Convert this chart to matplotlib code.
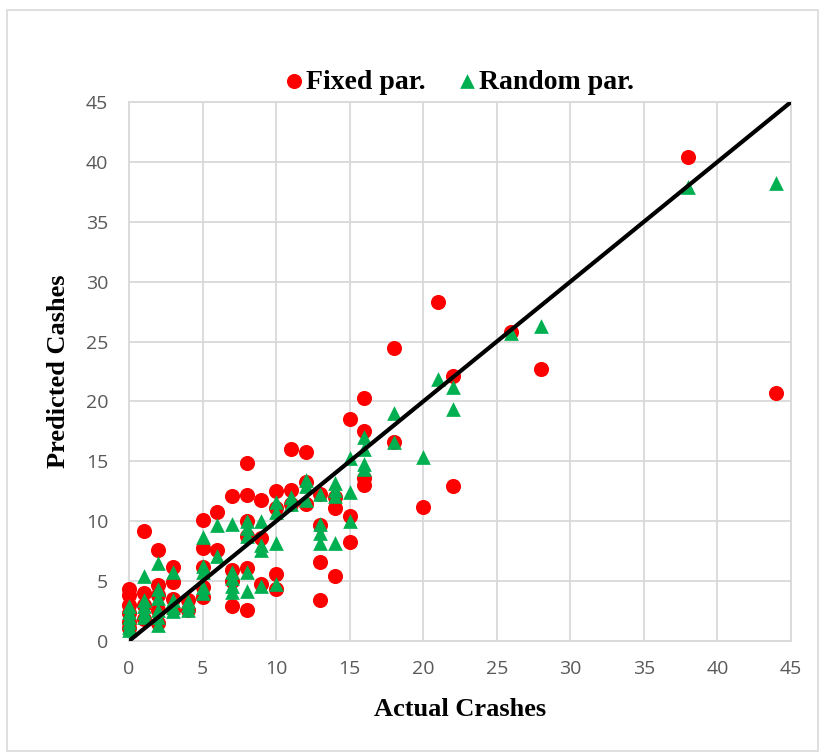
import matplotlib
matplotlib.use("Agg")
import matplotlib.pyplot as plt
from matplotlib.patches import Rectangle

# ---- data ----
fixed_x = [0, 0, 0, 0, 0, 0, 1, 1, 1, 1, 2, 2, 2, 2, 2, 3, 3, 3, 3, 4, 4,
           5, 5, 5, 5, 5, 6, 6, 7, 7, 7, 7, 8, 8, 8, 8, 8, 8, 9, 9, 9,
           10, 10, 10, 10, 11, 11, 11, 12, 12, 12, 13, 13, 13, 13, 14, 14, 14,
           15, 15, 15, 16, 16, 16, 16, 18, 18, 20, 21, 22, 22, 26, 28, 38, 44]
fixed_y = [4.3, 3.8, 3.0, 2.3, 1.6, 1.1, 9.2, 4.0, 3.0, 1.8, 7.6, 4.7, 3.8, 2.6, 1.5,
           6.2, 4.9, 3.5, 2.6, 3.4, 2.6, 10.1, 7.8, 6.2, 4.5, 3.7, 10.8, 7.6,
           12.1, 5.9, 5.0, 2.9, 14.9, 12.2, 10.0, 8.8, 6.1, 2.6, 11.8, 8.6, 4.8,
           12.5, 11.1, 5.6, 4.3, 16.0, 12.6, 11.4, 15.8, 13.3, 11.4,
           12.3, 9.7, 6.6, 3.4, 12.0, 11.1, 5.4, 18.5, 10.4, 8.3,
           20.3, 17.5, 13.6, 13.0, 24.5, 16.6, 11.2, 28.3, 22.1, 12.9,
           25.8, 22.7, 40.4, 20.7]

random_x = [0, 0, 0, 0, 0, 0, 1, 1, 1, 1, 1, 2, 2, 2, 2, 2, 2, 3, 3, 3, 3,
            4, 4, 4, 5, 5, 5, 5, 5, 6, 6, 7, 7, 7, 7, 7, 8, 8, 8, 8, 8,
            9, 9, 9, 9, 10, 10, 10, 10, 11, 11, 12, 12, 12, 13, 13, 13, 13,
            14, 14, 14, 14, 15, 15, 15, 16, 16, 16, 16, 18, 18, 20, 21, 22, 22,
            26, 28, 38, 44]
random_y = [2.9, 2.4, 2.0, 1.6, 1.2, 0.9, 5.4, 3.4, 2.9, 2.4, 2.0,
            6.5, 4.3, 3.6, 2.6, 2.0, 1.3, 5.8, 3.4, 2.8, 2.5,
            3.3, 3.0, 2.6, 8.7, 6.3, 5.8, 4.5, 4.0, 9.7, 7.1,
            9.8, 5.8, 5.3, 4.6, 4.1, 10.0, 9.4, 8.8, 5.8, 4.2,
            10.0, 8.0, 7.6, 4.6, 11.6, 10.8, 8.2, 4.8, 12.0, 11.4,
            13.4, 12.9, 11.8, 12.3, 9.8, 9.0, 8.2,
            13.2, 12.6, 12.1, 8.2, 15.3, 12.4, 10.0,
            17.0, 16.0, 14.8, 14.4, 19.0, 16.6, 15.4, 21.9, 21.2, 19.4,
            25.7, 26.3, 37.9, 38.2]

line_x = [0, 45]
line_y = [0, 45]
ticks = [0, 5, 10, 15, 20, 25, 30, 35, 40, 45]

# ---- figure ----
W, H = 820, 752
fig = plt.figure(figsize=(W / 100, H / 100), dpi=100)
fig.patches.append(Rectangle((7 / W, 1 / H), 811 / W, 741 / H, transform=fig.transFigure,
                             fill=False, edgecolor="#d9d9d9", linewidth=1.2))

ax = fig.add_axes([129 / W, 1 - 641 / H, (791 - 129) / W, (641 - 102) / H])
grid_c = "#d9d9d9"
ax.set_xlim(0, 45)
ax.set_ylim(0, 45)
ax.set_xticks(ticks)
ax.set_yticks(ticks)
ax.grid(True, color=grid_c, linewidth=1.3, zorder=0)
ax.set_axisbelow(True)
for s in ax.spines.values():
    s.set_color(grid_c)
    s.set_linewidth(1.3)
ax.tick_params(axis="x", length=0, pad=14, labelsize=14, labelcolor="#595959")
ax.tick_params(axis="y", length=0, pad=15, labelsize=14, labelcolor="#595959")
for lab in ax.get_xticklabels() + ax.get_yticklabels():
    lab.set_fontfamily("Open Sans")

ax.scatter(fixed_x, fixed_y, s=118, marker="o", color="#ff0000", linewidths=0,
           zorder=3, label="Fixed par.", clip_on=False)
ax.scatter(random_x, random_y, s=112, marker="^", color="#00b050", linewidths=0,
           zorder=4, label="Random par.", clip_on=False)
ax.plot(line_x, line_y, color="black", linewidth=3, zorder=5, solid_capstyle="butt")

serif_bold = dict(fontfamily="Liberation Serif", fontweight="bold", fontsize=19)
ax.set_xlabel("Actual Crashes", labelpad=14, **serif_bold)
ax.set_ylabel("Predicted Cashes", labelpad=11, **serif_bold)

leg = fig.legend(loc="center", bbox_to_anchor=(460 / W, 1 - 82 / H), ncol=2, frameon=False,
                 handlelength=0.6, handletextpad=0.12, columnspacing=1.2, markerscale=1.0,
                 borderpad=0, prop=dict(family="Liberation Serif", weight="bold", size=20))

fig.savefig("out.png", dpi=100)
